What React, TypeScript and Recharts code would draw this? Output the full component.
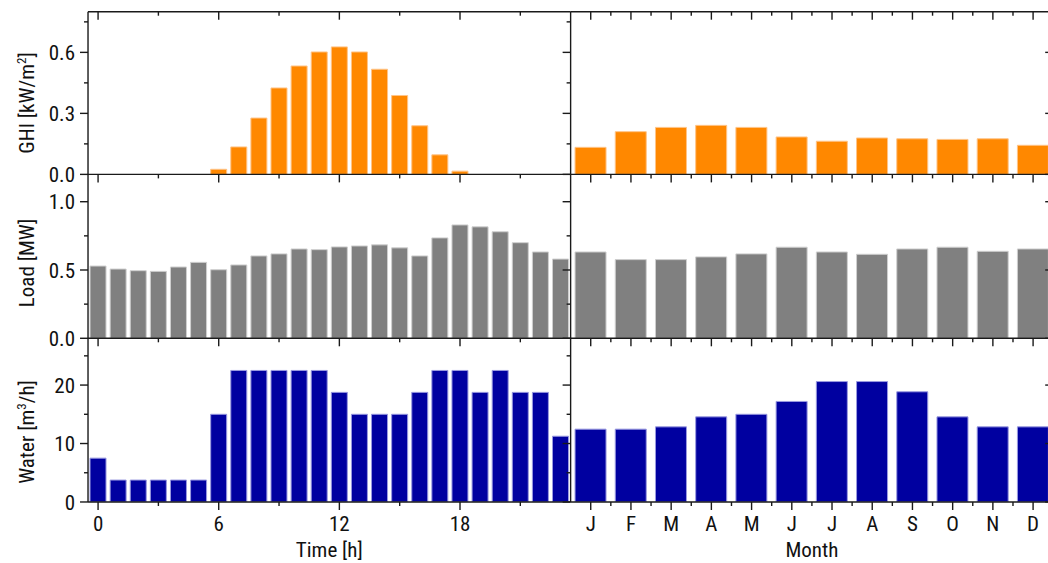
import React from "react";
import { BarChart, Bar, XAxis, YAxis } from "recharts";

// ---------- categories & tick labels ----------
const hours = [0, 1, 2, 3, 4, 5, 6, 7, 8, 9, 10, 11, 12, 13, 14, 15, 16, 17, 18, 19, 20, 21, 22, 23];
const hourMajorTicks = [0, 6, 12, 18];
const hourMinorTicks = [3, 9, 15, 21];
const months = ["Jan", "Feb", "Mar", "Apr", "May", "Jun", "Jul", "Aug", "Sep", "Oct", "Nov", "Dec"];
const monthLetters = ["J", "F", "M", "A", "M", "J", "J", "A", "S", "O", "N", "D"];
const monthMajorTicks = [0, 1, 2, 3, 4, 5, 6, 7, 8, 9, 10, 11];
const monthMinorTicks = [0.5, 1.5, 2.5, 3.5, 4.5, 5.5, 6.5, 7.5, 8.5, 9.5, 10.5];

// ---------- series values ----------
const ghiHourly = [0, 0, 0, 0, 0, 0, 0.025, 0.135, 0.277, 0.425, 0.533, 0.602, 0.627, 0.602, 0.517, 0.388, 0.239, 0.096, 0.016, 0, 0, 0, 0, 0];
const loadHourly = [0.529, 0.507, 0.495, 0.49, 0.522, 0.556, 0.502, 0.537, 0.603, 0.618, 0.654, 0.649, 0.669, 0.676, 0.684, 0.662, 0.603, 0.735, 0.83, 0.816, 0.78, 0.7, 0.632, 0.58];
const waterHourly = [7.5, 3.75, 3.75, 3.75, 3.75, 3.75, 15, 22.5, 22.5, 22.5, 22.5, 22.5, 18.75, 15, 15, 15, 18.75, 22.5, 22.5, 18.75, 22.5, 18.75, 18.75, 11.25];

const ghiMonthly = [0.133, 0.21, 0.231, 0.241, 0.231, 0.184, 0.163, 0.179, 0.175, 0.172, 0.175, 0.143];
const loadMonthly = [0.632, 0.576, 0.576, 0.596, 0.618, 0.667, 0.632, 0.615, 0.654, 0.667, 0.637, 0.654];
const waterMonthly = [12.46, 12.46, 12.85, 14.56, 15.0, 17.2, 20.6, 20.6, 18.85, 14.56, 12.85, 12.85];

// y-axis ticks
const ghiMajor = [0, 0.3, 0.6];
const ghiMinor = [0.15, 0.45, 0.75];
const loadMajor = [0, 0.5, 1.0];
const loadMinor = [0.25, 0.75];
const waterMajor = [0, 10, 20];
const waterMinor = [5, 15, 25];

const hourlyData = hours.map((h, i) => ({ cat: h, pos: h, ghi: ghiHourly[i], load: loadHourly[i], water: waterHourly[i] }));
const monthlyData = months.map((m, i) => ({ cat: m, pos: i, ghi: ghiMonthly[i], load: loadMonthly[i], water: waterMonthly[i] }));

// ---------- layout & style ----------
const W = 1060;
const H = 563;
const LEFT_X0 = 88;
const COL_W = 482.6;
const RIGHT_X0 = LEFT_X0 + COL_W;
const rows = [
  { top: 11.7, bottom: 174.4 },
  { top: 174.4, bottom: 338.3 },
  { top: 338.3, bottom: 502 },
];
const TINY = 0.01;
const FONT = "'Roboto Condensed', 'Liberation Sans Narrow', 'DejaVu Sans Condensed', 'Arial Narrow', Roboto, sans-serif";
const AX = "#1a1a1a";
const LW = 1.4;
const MAJ = 8;
const MIN = 4;
const FS = 21;
const textStyle = { fontSize: FS, fill: "#111", fontFamily: FONT, fontStretch: "condensed" as const };

const fmt1 = (v: number) => v.toFixed(1);
const fmt0 = (v: number) => String(v);

type Dir = "down" | "left";
// custom tick: draws the tick mark (and label) from the axis position recharts gives
function makeTick(dir: Dir, len: number, fmt?: (v: number) => string, gap = 5) {
  return (props: any) => {
    const { x, y, payload } = props;
    if (x == null || y == null || Number.isNaN(x) || Number.isNaN(y)) return <g />;
    if (dir === "down") {
      return (
        <g>
          <line x1={x} x2={x} y1={y} y2={y + len} stroke={AX} strokeWidth={LW} />
          {fmt && (
            <text x={x} y={y + len + gap} dy="0.72em" textAnchor="middle" {...textStyle}>
              {fmt(payload.value)}
            </text>
          )}
        </g>
      );
    }
    return (
      <g>
        <line x1={x} x2={x - len} y1={y} y2={y} stroke={AX} strokeWidth={LW} />
        {fmt && (
          <text x={x - len - gap} y={y} dy="0.36em" textAnchor="end" {...textStyle}>
            {fmt(payload.value)}
          </text>
        )}
      </g>
    );
  };
}

type PanelProps = {
  data: any[];
  valueKey: string;
  left: boolean;
  rowIdx: number;
  fill: string;
  stroke: string;
  yDomain: [number, number];
  yMajor: number[];
  yMinor: number[];
  yFmt: (v: number) => string;
};

function Panel(p: PanelProps) {
  const row = rows[p.rowIdx];
  const x0 = p.left ? LEFT_X0 : RIGHT_X0;
  const margin = { top: row.top, bottom: H - row.bottom, left: x0, right: W - x0 - COL_W };
  const xDomain: [number, number] = p.left ? [-0.5, 23.5] : [-0.5, 11.5];
  const xMajor = p.left ? hourMajorTicks : monthMajorTicks;
  const xMinor = p.left ? hourMinorTicks : monthMinorTicks;
  const xFmt = p.left ? fmt0 : (v: number) => monthLetters[v];
  const bottomRow = p.rowIdx === 2;
  const topRow = p.rowIdx === 0;
  const common = {
    stroke: AX,
    strokeWidth: LW,
    tickLine: false,
    tickSize: 0,
    tickMargin: 0,
    interval: 0 as const,
    allowDataOverflow: true,
  };
  const xNum = { ...common, type: "number" as const, dataKey: "pos", domain: xDomain, height: TINY };
  const yNum = { ...common, type: "number" as const, domain: p.yDomain, width: TINY };
  return (
    <div style={{ position: "absolute", left: 0, top: 0 }}>
      <BarChart width={W} height={H} data={p.data} margin={margin} barCategoryGap={p.left ? "10%" : "11%"}>
        <XAxis xAxisId="cat" dataKey="cat" type="category" hide height={TINY} />
        <XAxis
          xAxisId="maj"
          {...xNum}
          ticks={xMajor}
          axisLine
          tick={makeTick("down", MAJ, bottomRow ? xFmt : undefined, 6)}
        />
        <XAxis xAxisId="min" {...xNum} ticks={xMinor} axisLine={false} tick={makeTick("down", MIN)} />
        {topRow && (
          <XAxis xAxisId="tmaj" orientation="top" mirror {...xNum} ticks={xMajor} axisLine tick={makeTick("down", MAJ)} />
        )}
        {topRow && (
          <XAxis xAxisId="tmin" orientation="top" mirror {...xNum} ticks={xMinor} axisLine={false} tick={makeTick("down", MIN)} />
        )}
        <YAxis
          yAxisId="v"
          {...yNum}
          ticks={p.yMajor}
          axisLine
          tick={makeTick("left", MAJ, p.left ? p.yFmt : undefined, 5)}
        />
        <YAxis yAxisId="vm" {...yNum} ticks={p.yMinor} axisLine={false} tick={makeTick("left", MIN)} />
        {!p.left && (
          <YAxis yAxisId="vr" orientation="right" mirror {...yNum} ticks={p.yMajor} axisLine tick={makeTick("left", MAJ)} />
        )}
        <Bar
          xAxisId="cat"
          yAxisId="v"
          dataKey={p.valueKey}
          fill={p.fill}
          stroke={p.stroke}
          strokeWidth={1}
          isAnimationActive={false}
        />
      </BarChart>
    </div>
  );
}

const ORANGE = { fill: "#FF8800", stroke: "#FFC488" };
const GRAY = { fill: "#808080", stroke: "#CFCFCF" };
const BLUE = { fill: "#0000A0", stroke: "#9A9AE0" };

const series = [
  { key: "ghi", c: ORANGE, dom: [0, 0.8] as [number, number], maj: ghiMajor, min: ghiMinor, f: fmt1 },
  { key: "load", c: GRAY, dom: [0, 1.2] as [number, number], maj: loadMajor, min: loadMinor, f: fmt1 },
  { key: "water", c: BLUE, dom: [0, 28] as [number, number], maj: waterMajor, min: waterMinor, f: fmt0 },
];

function Titles() {
  const ty = [103, 263, 432];
  const tx = 34;
  return (
    <svg width={1048} height={563} style={{ position: "absolute", left: 0, top: 0 }}>
      <text x={tx} y={ty[0]} transform={`rotate(-90 ${tx} ${ty[0]})`} textAnchor="middle" {...textStyle}>
        GHI [kW/m<tspan dy={-8} fontSize={13}>2</tspan>
        <tspan dy={8}>]</tspan>
      </text>
      <text x={tx} y={ty[1]} transform={`rotate(-90 ${tx} ${ty[1]})`} textAnchor="middle" {...textStyle}>
        Load [MW]
      </text>
      <text x={tx} y={ty[2]} transform={`rotate(-90 ${tx} ${ty[2]})`} textAnchor="middle" {...textStyle}>
        Water [m<tspan dy={-8} fontSize={13}>3</tspan>
        <tspan dy={8}>/h]</tspan>
      </text>
      <text x={LEFT_X0 + COL_W / 2} y={557} textAnchor="middle" {...textStyle}>
        Time [h]
      </text>
      <text x={RIGHT_X0 + COL_W / 2} y={557} textAnchor="middle" {...textStyle}>
        Month
      </text>
    </svg>
  );
}

export default function App() {
  return (
    <div style={{ position: "absolute", left: 0, top: 0, width: 1048, height: 563, overflow: "hidden", background: "#fff" }}>
      {series.map((s, i) => (
        <React.Fragment key={s.key}>
          <Panel
            data={hourlyData}
            valueKey={s.key}
            left
            rowIdx={i}
            fill={s.c.fill}
            stroke={s.c.stroke}
            yDomain={s.dom}
            yMajor={s.maj}
            yMinor={s.min}
            yFmt={s.f}
          />
          <Panel
            data={monthlyData}
            valueKey={s.key}
            left={false}
            rowIdx={i}
            fill={s.c.fill}
            stroke={s.c.stroke}
            yDomain={s.dom}
            yMajor={s.maj}
            yMinor={s.min}
            yFmt={s.f}
          />
        </React.Fragment>
      ))}
      <Titles />
    </div>
  );
}
